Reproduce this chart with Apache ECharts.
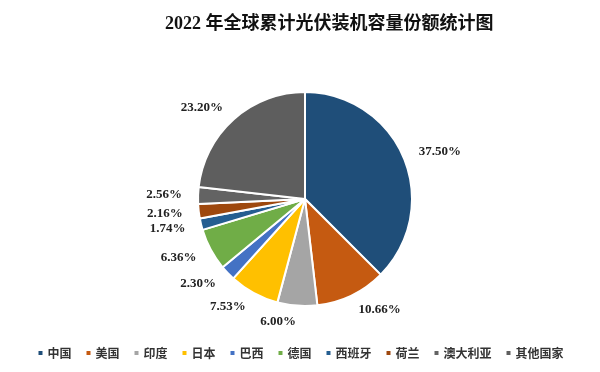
<!DOCTYPE html>
<html><head><meta charset="utf-8">
<script src="https://cdn.jsdelivr.net/npm/echarts@6/dist/echarts.min.js"></script>
<style>html,body{margin:0;padding:0;background:#fff}#c{width:600px;height:372px}</style>
</head><body><div id="c"></div>
<script>
const categories = ['中国','美国','印度','日本','巴西','德国','西班牙','荷兰','澳大利亚','其他国家'];
const shares = [37.50, 10.66, 6.00, 7.53, 2.30, 6.36, 1.74, 2.16, 2.56, 23.20];
const colors = ['#1F4E79','#C55A11','#A5A5A5','#FFC000','#4472C4','#70AD47','#255E91','#9E480E','#636363','#5E5E5E'];
const titleText = '2022 年全球累计光伏装机容量份额统计图';

const chart = echarts.init(document.getElementById('c'));
chart.setOption({
  animation: false,
  color: colors,
  title: {
    text: titleText, left: 160, top: 10,
    textStyle: {fontFamily: '"Liberation Serif","Noto Sans CJK SC"', fontSize: 18, fontWeight: 'bold', color: '#111'}
  },
  legend: {
    bottom: 8, left: 'center', itemWidth: 6, itemHeight: 6, itemGap: 13, icon: 'rect',
    textStyle: {fontFamily: '"Noto Sans CJK SC"', fontSize: 12, fontWeight: 'bold', color: '#333', padding: [0,0,0,-1]},
    data: categories
  },
  series: [{
    type: 'pie',
    center: [305, 199],
    radius: 107,
    startAngle: 90,
    clockwise: true,
    itemStyle: {borderColor: '#fff', borderWidth: 2},
    label: {
      show: true, position: 'outside',
      formatter: p => p.value.toFixed(2) + '%',
      fontFamily: '"Liberation Serif"', fontWeight: 'bold', fontSize: 13, color: '#222',
      distanceToLabelLine: 0
    },
    labelLine: {show: false, length: 16, length2: 0},
    data: categories.map((c, i) => ({name: c, value: shares[i]}))
  }]
});
</script></body></html>
